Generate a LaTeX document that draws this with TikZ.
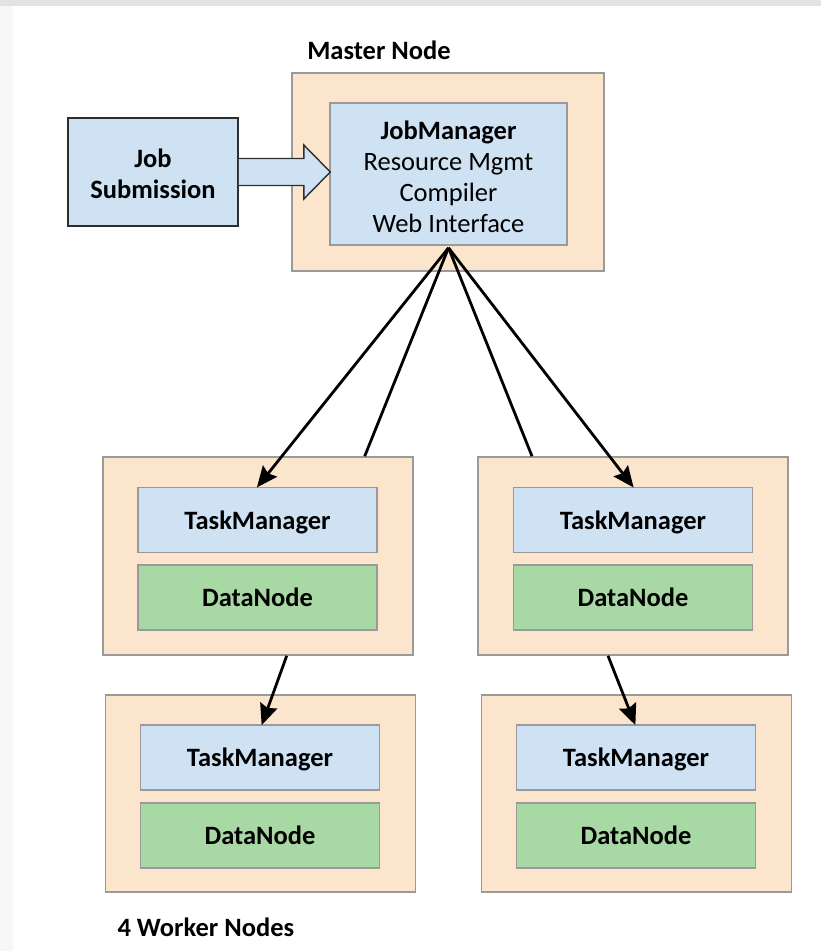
\documentclass[tikz,border=0pt]{standalone}
\usepackage{fontspec}
\setmainfont{Carlito}
\usetikzlibrary{arrows.meta,calc}

\definecolor{peach}{HTML}{FCE5CD}
\definecolor{paleblue}{HTML}{CFE2F3}
\definecolor{palegreen}{HTML}{A8D8A4}
\definecolor{boxgray}{HTML}{9A9A9A}
\definecolor{edgedark}{HTML}{2E2E2E}

\tikzset{
  txt/.style={font=\fontsize{26.5}{31}\selectfont},
  boldtxt/.style={font=\fontsize{26.5}{31}\selectfont\bfseries},
  host/.style={draw=boxgray, line width=1.6pt, fill=peach, inner sep=0pt,
    minimum width=310pt, minimum height=198pt},
  tmbox/.style={draw=boxgray, line width=1.6pt, fill=paleblue, inner sep=0pt,
    minimum width=239pt, minimum height=65pt, text depth=0pt, boldtxt},
  dnbox/.style={tmbox, fill=palegreen},
  link/.style={line width=2.8pt, black},
  linkarrow/.style={link, -{Stealth[length=21pt,width=18pt,inset=3pt]}, shorten >=-1pt},
}

\begin{document}
\begin{tikzpicture}[x=1pt,y=-1pt]
  % page and window edge
  \fill[white] (0,0) rectangle (821,951);
  \fill[black!3] (0,0) rectangle (13,951);
  \fill[black!11] (0,0) rectangle (821,6);

  % master node
  \node[boldtxt] (mastertitle) at (379,50) {Master Node};
  \node[host, minimum width=312pt, minimum height=198pt] (master) at (448,172) {};
  \node[draw=boxgray, line width=1.6pt, fill=paleblue, minimum width=237pt, minimum height=142pt,
        inner sep=0pt] (jm) at (448.5,174) {};
  \node[align=center, txt, inner sep=0pt] (jmtext) at ($(jm.center)+(0,2.5)$)
    {\textbf{JobManager}\\Resource Mgmt\\Compiler\\Web Interface};

  % job submission box and its block arrow
  \node[draw=edgedark, line width=1.6pt, fill=paleblue, minimum width=170pt, minimum height=108pt,
        inner sep=0pt] (js) at (153,172) {};
  \node[align=center, boldtxt, inner sep=0pt] (jstext) at ($(js.center)+(0,1.5)$) {Job\\Submission};
  \draw[draw=edgedark, line width=1.4pt, fill=paleblue, line join=miter]
    ($(js.east)+(0,-13.5)$) -- ++(65,0) -- ++(0,-13.5) -- ($(js.east)+(91.5,0)$)
    -- ($(js.east)+(65,27)$) -- ++(0,-13.5) -- ($(js.east)+(0,13.5)$);

  % worker nodes
  \node[host] (w1) at (257.7,556) {};
  \node[tmbox] (tm1) at (257.5,520) {TaskManager};
  \node[dnbox] (dn1) at (257.5,597.5) {DataNode};

  \node[host] (w2) at (633,556) {};
  \node[tmbox] (tm2) at (633,520) {TaskManager};
  \node[dnbox] (dn2) at (633,597.5) {DataNode};

  \node[host, minimum height=197pt] (w3) at (260.5,793.5) {};
  \node[tmbox] (tm3) at (260,757.5) {TaskManager};
  \node[dnbox] (dn3) at (260,835.5) {DataNode};

  \node[host, minimum height=197pt] (w4) at (636.5,793.5) {};
  \node[tmbox] (tm4) at (636,757.5) {TaskManager};
  \node[dnbox] (dn4) at (636,835.5) {DataNode};

  \node[boldtxt, anchor=west] (workerstitle) at (114,927) {4 Worker Nodes};

  % connections from the JobManager
  \coordinate (fan) at ($(jm.south)+(0,2)$);
  \coordinate (w1top) at ($(w1.north)+(107,0)$);
  \coordinate (w2top) at ($(w2.north)+(-101,0)$);
  \draw[linkarrow] (fan) -- (tm1.north);
  \draw[link] (fan) -- (w1top);
  \draw[link] (fan) -- (w2top);
  \draw[linkarrow] (fan) -- (tm2.north);

  % connections between worker nodes
  \draw[linkarrow] ($(w1.south)+(29,0)$) -- ($(tm3.north)+(2,0)$);
  \draw[linkarrow] ($(w2.south)+(-25,0)$) -- ($(tm4.north)+(-1,0)$);
\end{tikzpicture}
\end{document}
